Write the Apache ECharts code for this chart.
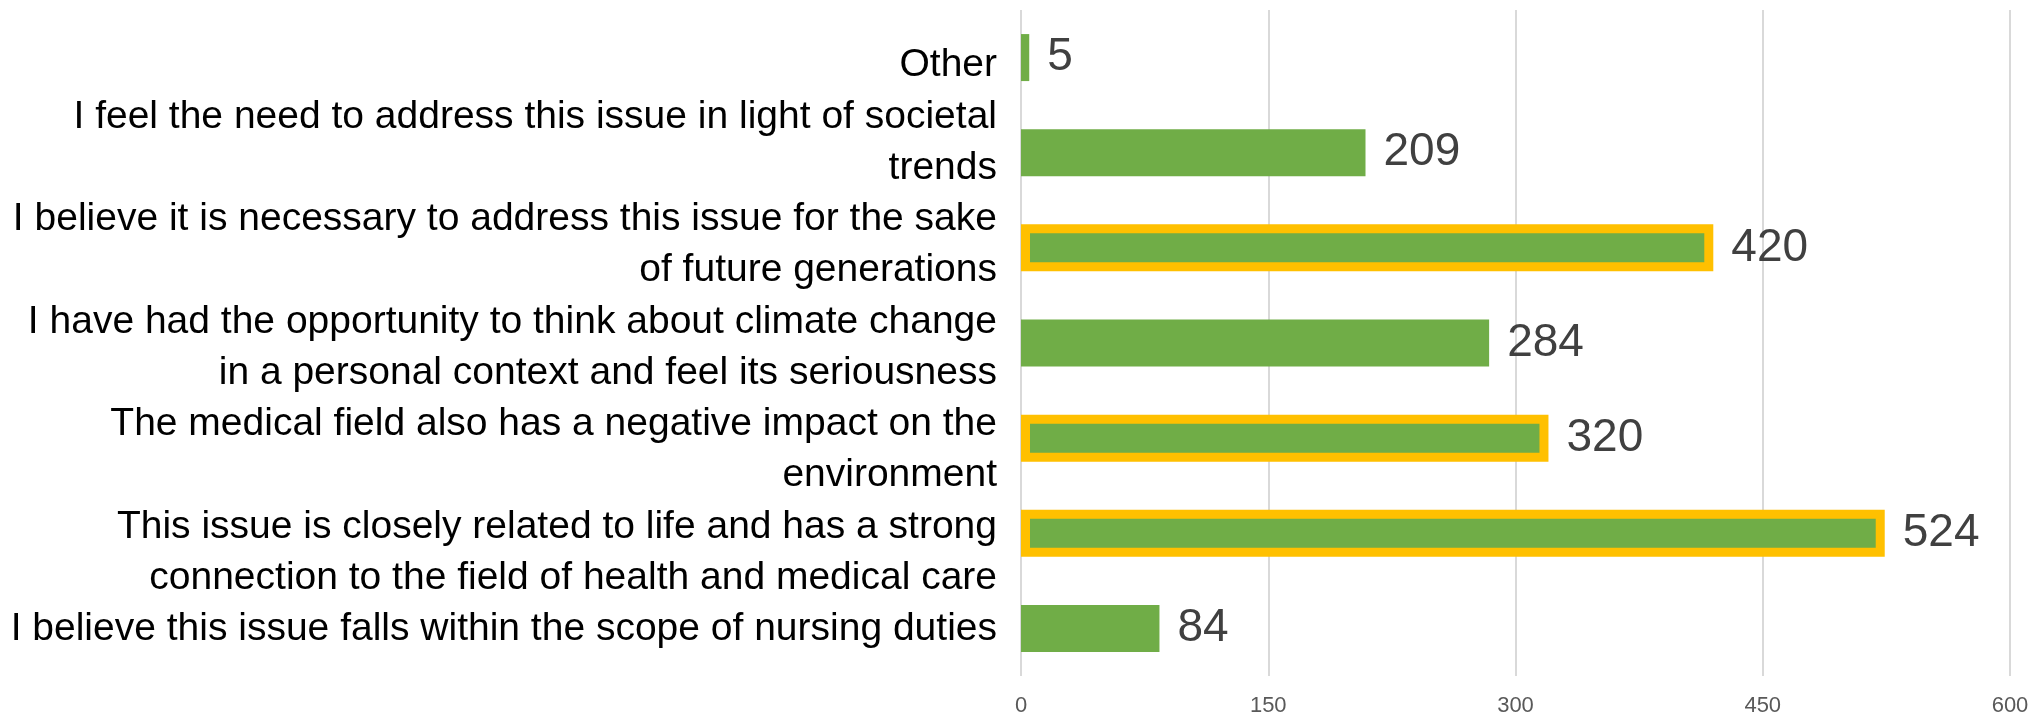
<!DOCTYPE html>
<html>
<head>
  <meta charset="utf-8">
  <script src="https://cdn.jsdelivr.net/npm/echarts@6/dist/echarts.min.js"></script>
  <style>
    html, body { margin: 0; padding: 0; background: #fff; }
  </style>
</head>
<body>
  <div id="main" style="width: 2030px; height: 716px"></div>
  <script type="text/javascript">
    // reasons, top to bottom (\n = where the original wraps)
    var categories = [
      'Other',
      'I feel the need to address this issue in light of societal\ntrends',
      'I believe it is necessary to address this issue for the sake\nof future generations',
      'I have had the opportunity to think about climate change\nin a personal context and feel its seriousness',
      'The medical field also has a negative impact on the\nenvironment',
      'This issue is closely related to life and has a strong\nconnection to the field of health and medical care',
      'I believe this issue falls within the scope of nursing duties'
    ];
    var counts = [5, 209, 420, 284, 320, 524, 84];
    // bars outlined in yellow
    var highlighted = [false, false, true, false, true, true, false];
    var xTicks = [0, 150, 300, 450, 600];

    var myChart = echarts.init(document.getElementById('main'));

    // the original stacks all label lines evenly instead of centring them on
    // each bar, so the lines go on their own category axis in a second grid
    var labelLines = [];
    categories.forEach(function (c) {
      c.split('\n').forEach(function (line) { labelLines.push(line); });
    });

    var barData = counts.map(function (v, i) {
      var item = { value: v };
      if (highlighted[i]) {
        item.itemStyle = { borderColor: '#FFC000', borderWidth: 9 };
      }
      return item;
    });

    myChart.setOption({
      animation: false,
      textStyle: { fontFamily: 'Liberation Sans' },
      grid: [
        { left: 1021, right: 20, top: 10, bottom: 40, outerBoundsMode: 'none' },
        { left: 1021, right: 20, top: 40, bottom: 61, outerBoundsMode: 'none' }
      ],
      xAxis: [{
        type: 'value',
        gridIndex: 0,
        min: xTicks[0],
        max: xTicks[xTicks.length - 1],
        interval: xTicks[1] - xTicks[0],
        axisLine: { show: false },
        axisTick: { show: false },
        axisLabel: { fontSize: 22, color: '#595959', margin: 19 },
        splitLine: { lineStyle: { color: '#D9D9D9', width: 2 } }
      }, {
        type: 'value',
        gridIndex: 1,
        show: false
      }],
      yAxis: [{
        type: 'category',
        gridIndex: 0,
        inverse: true,
        data: categories,
        axisLine: { show: false },
        axisTick: { show: false },
        axisLabel: { show: false }
      }, {
        type: 'category',
        gridIndex: 1,
        inverse: true,
        data: labelLines,
        axisLine: { show: false },
        axisTick: { show: false },
        splitLine: { show: false },
        axisLabel: { interval: 0, fontSize: 39, color: '#000', margin: 24, align: 'right' }
      }],
      series: [{
        type: 'bar',
        xAxisIndex: 0,
        yAxisIndex: 0,
        data: barData,
        barWidth: 47,
        itemStyle: { color: '#70AD47' },
        label: {
          show: true,
          position: 'right',
          distance: 18,
          fontSize: 46,
          color: '#404040'
        }
      }]
    });
  </script>
</body>
</html>
